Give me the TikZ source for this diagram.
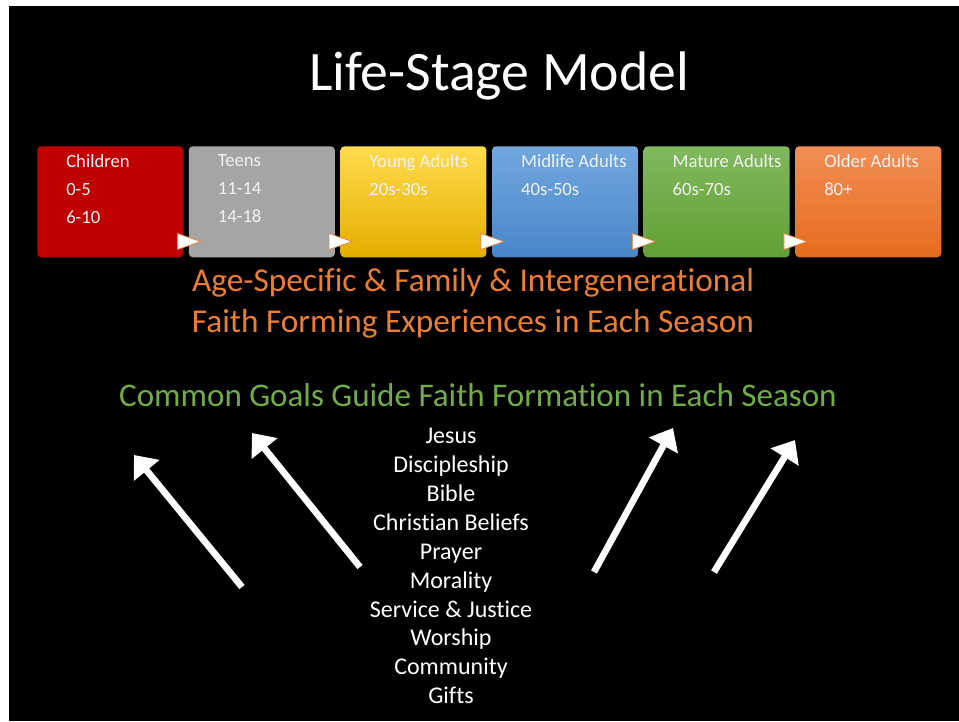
\documentclass[tikz,border=0pt]{standalone}
\usepackage{fontspec}
\setmainfont{Carlito}[Ligatures=NoCommon]
\usepackage{xcolor}
\usetikzlibrary{positioning,arrows.meta,calc}

\definecolor{kidRed}{HTML}{C00000}
\definecolor{teenGray}{HTML}{A5A5A5}
\definecolor{flagOrange}{HTML}{ED7D31}
\definecolor{seasonOrange}{HTML}{ED7D31}
\definecolor{goalGreen}{HTML}{70AD47}

\begin{document}
\begin{tikzpicture}[x=0.75pt,y=-0.75pt,
  stage/.style={rounded corners=3pt, minimum width=109.5pt, minimum height=83.25pt, inner sep=0pt, anchor=north west},
  agetext/.style={text=white!95!black, align=left, inner sep=0pt, font=\fontsize{14}{21}\selectfont, execute at begin node={\vphantom{Ch}}},
  flag/.style={fill=white, draw=flagOrange, line width=0.5pt},
  goal/.style={white, line width=5pt, -{Triangle[length=15pt,width=24pt]}}]
\useasboundingbox (0,0) rectangle (959,721);
\fill[white] (0,0) rectangle (959,721);
\fill[black] (9,6) rectangle (959,721);

\node[white, font=\fontsize{41.8}{49}\selectfont] (title) at (499,76) {Life-Stage Model};

% the six seasons
\node[stage, fill=kidRed] (children) at (37,146) {};
\node[stage, fill=teenGray, right=3.8pt of children] (teens) {};
\node[stage, top color=yellow!60!orange!70!white, middle color={rgb,255:red,255;green,192;blue,0}, bottom color={rgb,255:red,228;green,174;blue,0}, right=3.8pt of teens] (young) {};
\node[stage, top color={rgb,255:red,114;green,167;blue,222}, bottom color={rgb,255:red,72;green,134;blue,201}, right=3.8pt of young] (midlife) {};
\node[stage, top color={rgb,255:red,129;green,184;blue,94}, bottom color={rgb,255:red,96;green,160;blue,52}, right=3.8pt of midlife] (mature) {};
\node[stage, top color={rgb,255:red,242;green,142;blue,86}, bottom color={rgb,255:red,229;green,108;blue,28}, right=3.8pt of mature] (older) {};

\node[agetext, below right=6.4pt and 21.75pt of children.north west] (childrenTxt) {Children\\0-5\\6-10};
\node[agetext, below right=6.4pt and 21.75pt of teens.north west] (teensTxt) {Teens\\11-14\\14-18};
\node[agetext, below right=6.4pt and 21.75pt of young.north west] (youngTxt) {Young Adults\\20s-30s};
\node[agetext, below right=6.4pt and 21.75pt of midlife.north west] (midlifeTxt) {Midlife Adults\\40s-50s};
\node[agetext, below right=6.4pt and 21.75pt of mature.north west] (matureTxt) {Mature Adults\\60s-70s};
\node[agetext, below right=6.4pt and 21.75pt of older.north west] (olderTxt) {Older Adults\\80+};

% small flags between seasons
\filldraw[flag] ($(children.south east)+(-6,-24)$) -- ++(0,16) -- ++(23,-8) -- cycle;
\filldraw[flag] ($(teens.south east)+(-6,-24)$) -- ++(0,16) -- ++(23,-8) -- cycle;
\filldraw[flag] ($(young.south east)+(-6,-24)$) -- ++(0,16) -- ++(23,-8) -- cycle;
\filldraw[flag] ($(midlife.south east)+(-6,-24)$) -- ++(0,16) -- ++(23,-8) -- cycle;
\filldraw[flag] ($(mature.south east)+(-6,-24)$) -- ++(0,16) -- ++(23,-8) -- cycle;

\node[text=seasonOrange, align=center, font=\fontsize{25}{30.75}\selectfont] (experiences) at (473,303.5)
  {Age-Specific \& Family \& Intergenerational\\Faith Forming Experiences in Each Season};
\node[text=goalGreen, font=\fontsize{24.8}{30}\selectfont] (goals) at (478,395)
  {Common Goals Guide Faith Formation in Each Season};

\node[white, align=center, font=\fontsize{18}{21.7}\selectfont] (topics) at (451,566)
  {Jesus\\Discipleship\\Bible\\Christian Beliefs\\Prayer\\Morality\\Service \& Justice\\Worship\\Community\\Gifts};

% arrows up to the goals
\coordinate (aOneS) at (242,587);
\coordinate (aOneE) at (134,455);
\coordinate (aTwoS) at (360,567);
\coordinate (aTwoE) at (252,433);
\coordinate (aThreeS) at (594,572);
\coordinate (aThreeE) at (673,428);
\coordinate (aFourS) at (714,572);
\coordinate (aFourE) at (795,440);
\draw[goal] (aOneS) -- (aOneE);
\draw[goal] (aTwoS) -- (aTwoE);
\draw[goal] (aThreeS) -- (aThreeE);
\draw[goal] (aFourS) -- (aFourE);
\end{tikzpicture}
\end{document}
